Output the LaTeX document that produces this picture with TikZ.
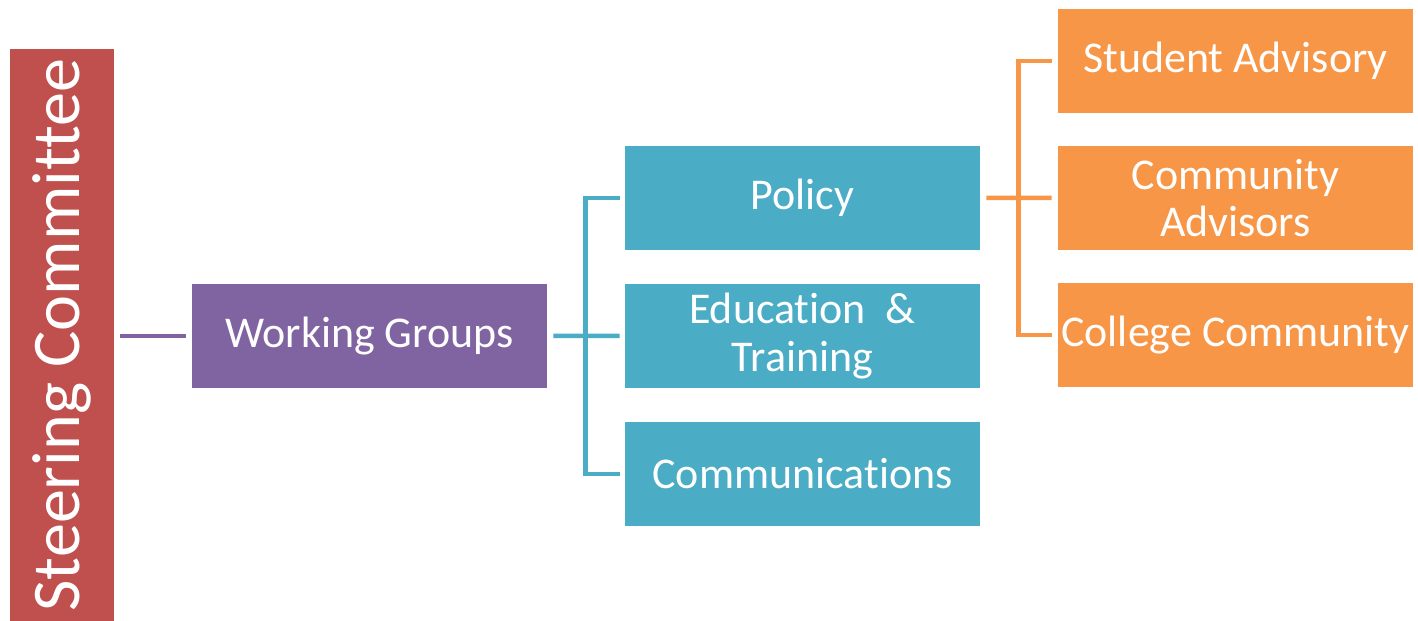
\documentclass[tikz,border=0pt]{standalone}
\usepackage{fontspec}
\setmainfont{Carlito}[Ligatures={NoCommon,NoContextual},Contextuals=NoAlternate]
\usepackage{xcolor}
\usepackage{tikz}

\begin{document}
\begin{tikzpicture}
    \definecolor{myred}{RGB}{192,80,77}
    \definecolor{mypurple}{RGB}{128,100,162}
    \definecolor{myteal}{RGB}{75,172,198}
    \definecolor{myorange}{RGB}{247,150,70}

    % 定义方块样式
    \tikzstyle{format}=[rectangle,text=white,align=center,inner sep=0pt,
        minimum width=7.1cm,minimum height=2.08cm,font=\fontsize{25}{27}\selectfont]
    \tikzstyle{link}=[line width=0.09cm]

    \useasboundingbox (0,0) rectangle (28.36,12.42);

    % 定义note
    \node[format,fill=myred,rotate=90,minimum width=11.44cm,minimum height=2.08cm,
        font=\fontsize{38.8}{40}\selectfont](steer) at (1.24,5.72){Steering Committee};
    \node[format,fill=mypurple](wg) at (7.39,5.70){Working Groups};
    \node[format,fill=myteal](policy) at (16.05,8.46){Policy};
    \node[format,fill=myteal,below of=policy,node distance=2.76cm](edu){Education\ \ \&\\Training};
    \node[format,fill=myteal,below of=edu,node distance=2.76cm](comm){Communications};
    \node[format,fill=myorange](student) at (24.71,11.2){Student Advisory};
    \node[format,fill=myorange,below of=student,node distance=2.74cm](cadv){Community\\Advisors};
    \node[format,fill=myorange,below of=cadv,node distance=2.74cm](college){College Community};

    % 开始画线
    \draw[link,mypurple]([xshift=0.12cm]steer.south |- wg.west) -- ([xshift=-0.12cm]wg.west);
    \draw[link,myteal]([xshift=0.12cm]wg.east) -- ([xshift=-0.1cm]edu.west);
    \draw[link,myteal]([xshift=-0.1cm]policy.west) -| ([xshift=-0.78cm]edu.west) |- ([xshift=-0.1cm]comm.west);
    \draw[link,myorange]([xshift=0.12cm]policy.east) -- ([xshift=-0.12cm]cadv.west);
    \draw[link,myorange]([xshift=-0.12cm]student.west) -| ([xshift=-0.78cm]cadv.west) |- ([xshift=-0.12cm]college.west);
\end{tikzpicture}
\end{document}
